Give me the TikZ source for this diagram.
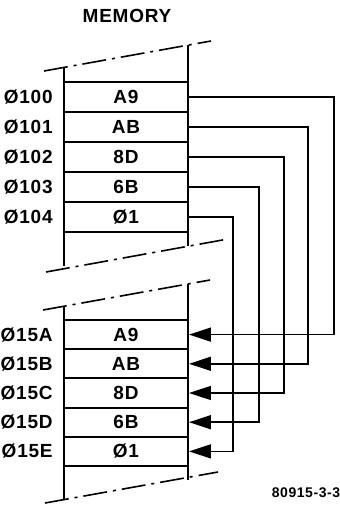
\documentclass[tikz,border=0pt]{standalone}
\usepackage{fontspec}
\setmainfont{Liberation Sans}[LetterSpace=4]
\usetikzlibrary{arrows.meta, positioning}

\tikzset{
    cell/.style={draw, line width=1pt, minimum width=62pt, minimum height=14.6pt, inner sep=0pt,
                 font=\bfseries\fontsize{9.5}{11}\selectfont},
    addr/.style={font=\bfseries\fontsize{9.5}{11}\selectfont, inner sep=0pt},
    wall/.style={line width=1.1pt},
    brk/.style={line width=0.8pt, dash pattern=on 12pt off 3pt on 1.5pt off 3pt},
    link/.style={line width=0.8pt, -{Triangle[length=11pt,width=7pt]}},
}

\begin{document}
\begin{tikzpicture}[x=0.5pt, y=-0.5pt]
    \useasboundingbox (0,0) rectangle (339,505);
    \node[addr] (title) at (127,16) {MEMORY};

    % upper part of the memory
    \draw[wall] (64,67) -- (64,266) (188,45) -- (188,246);
    \draw[brk] (44,71) -- (211,41);
    \draw[brk] (46,272) -- (228,239);
    \foreach \adr/\val [count=\i] in {100/A9, 101/AB, 102/8D, 103/6B, 104/Ø1} {
        \node[cell] (u\i) at (126,67+30*\i) {\val};
        \node[addr, left=5pt of u\i] (ua\i) {Ø\adr};
    }

    % lower part of the memory
    \draw[brk] (43,310) -- (210,280);
    \draw[wall] (64,306) -- (64,500) (188,284) -- (188,480);
    \draw[brk] (45,503) -- (218,472);
    \foreach \adr/\val [count=\i] in {15A/A9, 15B/AB, 15C/8D, 15D/6B, 15E/Ø1} {
        \node[cell] (l\i) at (126,305.4+29.2*\i) {\val};
        \node[addr, left=5pt of l\i] (la\i) {Ø\adr};
    }

    % moves
    \foreach \i/\dx in {1/145, 2/119, 3/95, 4/70, 5/44}
        \draw[link] (u\i.east) -- ++(\dx,0) |- (l\i.east);

    \node[addr, font=\bfseries\fontsize{7}{8}\selectfont] (fig) at (306,493) {80915-3-3};
\end{tikzpicture}
\end{document}
